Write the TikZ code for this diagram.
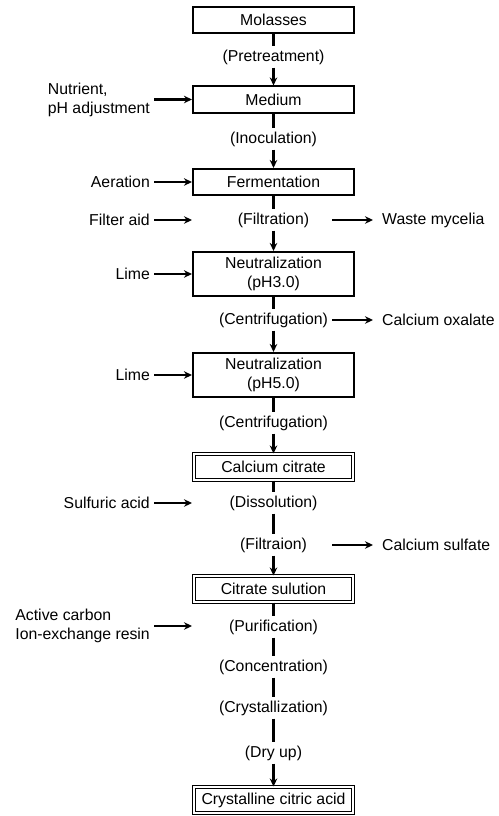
\documentclass[tikz,border=0pt]{standalone}
\usepackage{fontspec}
\setmainfont{Liberation Sans}
\usetikzlibrary{arrows.meta, positioning}

\begin{document}
\begin{tikzpicture}[x=1bp, y=-1bp, font=\fontsize{15.8bp}{19bp}\selectfont,
    > = {Stealth[length=8bp, width=7.5bp]},
    stagebox/.style={draw, line width=1.6bp, minimum width=161.5bp, minimum height=26.5bp, inner sep=2bp, align=center},
    productbox/.style={draw, double, line width=1bp, double distance=1.8bp, minimum width=159bp, minimum height=26bp, inner sep=2bp},
    process/.style={inner sep=3bp},
    feed/.style={anchor=east, inner xsep=4bp, inner ysep=0bp, align=left},
    waste/.style={anchor=west, inner xsep=9bp},
    flow/.style={line width=2.6bp},
    side/.style={line width=2.3bp, ->},
  ]
    \useasboundingbox (0,0) rectangle (499,816);
    \def\cx{273.5}

    % main line
    \node[stagebox] (molasses) at (\cx,20) {Molasses};
    \node[process] (pretreat) at (\cx,57) {(Pretreatment)};
    \node[stagebox] (medium) at (\cx,99.5) {Medium};
    \node[process] (inoc) at (\cx,139) {(Inoculation)};
    \node[stagebox] (ferment) at (\cx,182) {Fermentation};
    \node[process] (filtr) at (\cx,220) {(Filtration)};
    \node[stagebox, minimum height=44.5bp] (neutA) at (\cx,274) {Neutralization\\(pH3.0)};
    \node[process] (centA) at (\cx,320) {(Centrifugation)};
    \node[stagebox, minimum height=44.5bp] (neutB) at (\cx,375) {Neutralization\\(pH5.0)};
    \node[process] (centB) at (\cx,423) {(Centrifugation)};
    \node[productbox] (cacit) at (\cx,467) {Calcium citrate};
    \node[process] (dissol) at (\cx,503) {(Dissolution)};
    \node[process] (filtraion) at (\cx,545) {(Filtraion)};
    \node[productbox] (citsol) at (\cx,589) {Citrate sulution};
    \node[process] (purif) at (\cx,627) {(Purification)};
    \node[process] (conc) at (\cx,667) {(Concentration)};
    \node[process] (cryst) at (\cx,708) {(Crystallization)};
    \node[process] (dryup) at (\cx,753) {(Dry up)};
    \node[productbox] (crystal) at (\cx,800) {Crystalline citric acid};

    \draw[flow] (molasses) -- (pretreat);
    \draw[flow, ->] (pretreat) -- (medium);
    \draw[flow] (medium) -- (inoc);
    \draw[flow, ->] (inoc) -- (ferment);
    \draw[flow] (ferment) -- (filtr);
    \draw[flow, ->] (filtr) -- (neutA);
    \draw[flow] (neutA) -- (centA);
    \draw[flow, ->] (centA) -- (neutB);
    \draw[flow] (neutB) -- (centB);
    \draw[flow, ->] (centB) -- (cacit);
    \draw[flow] (cacit) -- (dissol);
    \draw[flow] (dissol) -- (filtraion);
    \draw[flow, ->] (filtraion) -- (citsol);
    \draw[flow] (citsol) -- (purif);
    \draw[flow] (purif) -- (conc);
    \draw[flow] (conc) -- (cryst);
    \draw[flow] (cryst) -- (dryup);
    \draw[flow, ->] (dryup) -- (crystal);

    % inputs on the left
    \node[feed] (nutrient) at (154,99.5) {Nutrient,\\pH adjustment};
    \node[feed] (aeration) at (154,182) {Aeration};
    \node[feed] (filteraid) at (154,220) {Filter aid};
    \node[feed] (limeA) at (154,274) {Lime};
    \node[feed] (limeB) at (154,375) {Lime};
    \node[feed] (sulfuric) at (154,503) {Sulfuric acid};
    \node[feed] (carbon) at (154,626) {Active carbon\\Ion-exchange resin};
    \coordinate (faend) at (192,220);
    \coordinate (saend) at (192,503);
    \coordinate (acend) at (192,626);

    \draw[side] (nutrient) -- (medium);
    \draw[side] (aeration) -- (ferment);
    \draw[side] (filteraid) -- (faend);
    \draw[side] (limeA) -- (neutA);
    \draw[side] (limeB) -- (neutB);
    \draw[side] (sulfuric) -- (saend);
    \draw[side] (carbon) -- (acend);

    % outputs on the right
    \node[waste] (mycelia) at (373,220) {Waste mycelia};
    \node[waste] (oxalate) at (373,320) {Calcium oxalate};
    \node[waste] (sulfate) at (373,545) {Calcium sulfate};
    \coordinate (wmstart) at (332,220);
    \coordinate (costart) at (332,320);
    \coordinate (csstart) at (332,545);

    \draw[side] (wmstart) -- (mycelia);
    \draw[side] (costart) -- (oxalate);
    \draw[side] (csstart) -- (sulfate);
\end{tikzpicture}
\end{document}
